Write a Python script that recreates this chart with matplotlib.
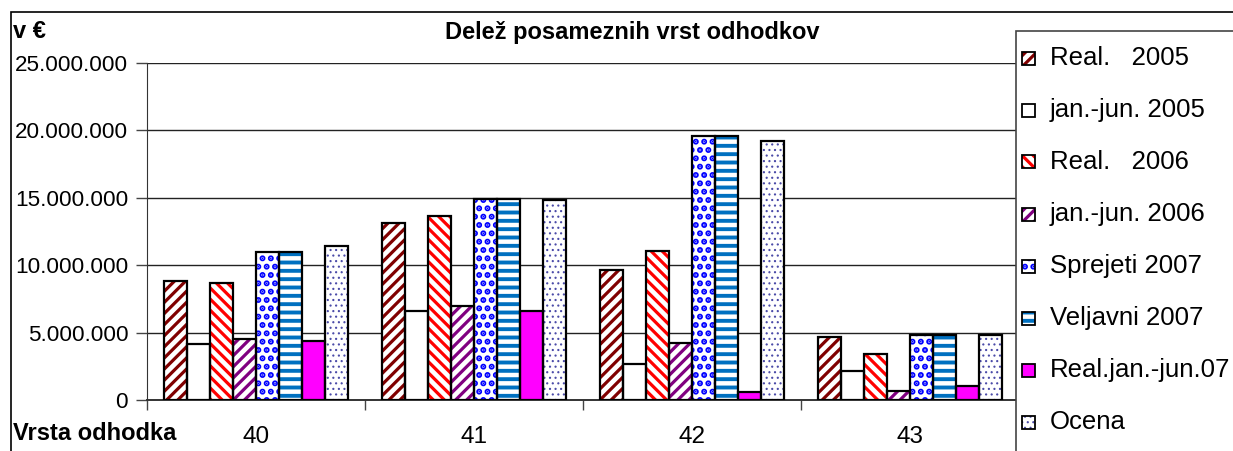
import numpy as np
import matplotlib
matplotlib.use('Agg')
import matplotlib.pyplot as plt
from matplotlib.patches import Rectangle
from matplotlib.ticker import FuncFormatter

plt.rcParams['font.family'] = ['Liberation Sans', 'DejaVu Sans']

categories = ['40', '41', '42', '43']
series = ['Real.   2005', 'jan.-jun. 2005', 'Real.   2006', 'jan.-jun. 2006',
          'Sprejeti 2007', 'Veljavni 2007', 'Real.jan.-jun.07', 'Ocena']

real_2005 = [8.8e6, 13.13e6, 9.63e6, 4.68e6]
jan_jun_2005 = [4.13e6, 6.59e6, 2.70e6, 2.18e6]
real_2006 = [8.66e6, 13.67e6, 11.02e6, 3.42e6]
jan_jun_2006 = [4.50e6, 6.98e6, 4.20e6, 0.67e6]
sprejeti_2007 = [10.98e6, 14.91e6, 19.62e6, 4.85e6]
veljavni_2007 = [10.98e6, 14.91e6, 19.62e6, 4.85e6]
real_jan_jun_07 = [4.35e6, 6.59e6, 0.62e6, 1.04e6]
ocena = [11.45e6, 14.86e6, 19.24e6, 4.85e6]

values = [real_2005, jan_jun_2005, real_2006, jan_jun_2006,
          sprejeti_2007, veljavni_2007, real_jan_jun_07, ocena]

# (face colour, hatch colour, hatch, hatch linewidth)
styles = [
    ('white', '#800000', '///', 2.3),
    ('white', 'white', '', 1.0),
    ('white', '#ff0000', '\\\\\\', 2.3),
    ('white', '#800080', '///', 2.3),
    ('white', '#0000ff', '..', 3.0),
    ('white', '#0070c0', '--', 2.8),
    ('#ff00ff', '#ff00ff', '', 1.0),
    ('white', '#4b4ba8', '...', 0.8),
]

W, H = 1233, 451
fig = plt.figure(figsize=(W / 100, H / 100), dpi=100)
ax = fig.add_axes([147 / W, 1 - 400 / H, 872 / W, 337 / H])

x = np.arange(len(categories))
w = 0.105
for i, (vals, (fc, hc, hatch, hlw)) in enumerate(zip(values, styles)):
    pos = x + (i - 3.5) * w
    with plt.rc_context({'hatch.linewidth': hlw}):
        ax.bar(pos, vals, w, color=fc, edgecolor=hc, hatch=hatch, linewidth=0, zorder=2)
    ax.bar(pos, vals, w, fill=False, edgecolor='black', linewidth=1.6, zorder=3)

ax.set_xlim(-0.5, 3.5)
ax.set_ylim(0, 25e6)
ax.set_yticks(np.arange(0, 25e6 + 1, 5e6))
ax.yaxis.set_major_formatter(FuncFormatter(lambda v, p: f'{int(v):,}'.replace(',', '.')))
ax.grid(axis='y', color='#222222', linewidth=1.0, zorder=0)
ax.set_axisbelow(True)
ax.set_xticks(x)
ax.set_xticklabels(categories)
ax.set_xticks(np.arange(-0.5, 4.0, 1.0), minor=True)
ax.tick_params(axis='x', which='major', length=0, pad=19, labelsize=17.5)
ax.tick_params(axis='x', which='minor', length=7, width=1, color='#444444')
ax.tick_params(axis='y', length=8, width=1, color='#444444', pad=5.5, labelsize=16.2)
for s in ['top', 'right']:
    ax.spines[s].set_visible(False)
ax.spines['left'].set_color('#333333')
ax.spines['bottom'].set_color('#333333')
ax.spines['bottom'].set_linewidth(1.4)

# outer chart frame
fig.add_artist(Rectangle((11 / W, -0.5), 2, 0.5 + 1 - 12 / H, transform=fig.transFigure,
                         fill=False, edgecolor='black', linewidth=1.2))
# legend frame, running off the right and bottom edges
fig.add_artist(Rectangle((1016 / W, -0.5), 2, 0.5 + 1 - 31 / H, transform=fig.transFigure,
                         facecolor='white', edgecolor='#444444', linewidth=1.2))

# legend entries drawn by hand (small square key + label)
key = 13
for i, (label, (fc, hc, hatch, hlw)) in enumerate(zip(series, styles)):
    yc = 58 + i * 52
    with plt.rc_context({'hatch.linewidth': hlw}):
        fig.add_artist(Rectangle((1022 / W, 1 - (yc + key / 2) / H), key / W, key / H,
                                 transform=fig.transFigure, facecolor=fc, edgecolor=hc,
                                 hatch=hatch, linewidth=0, zorder=6))
    fig.add_artist(Rectangle((1022 / W, 1 - (yc + key / 2) / H), key / W, key / H,
                             transform=fig.transFigure, fill=False, edgecolor='black',
                             linewidth=1.3, zorder=7))
    fig.text(1050 / W, 1 - yc / H, label, fontsize=18.5, va='center', ha='left', zorder=7)

fig.text(13 / W, 1 - 32 / H, 'v €', fontsize=17, fontweight='bold', va='center', ha='left')
fig.text(632 / W, 1 - 32 / H, 'Delež posameznih vrst odhodkov', fontsize=17,
         fontweight='bold', va='center', ha='center')
fig.text(13 / W, 1 - 434 / H, 'Vrsta odhodka', fontsize=17, fontweight='bold',
         va='center', ha='left')

fig.savefig('out.png', dpi=100)
